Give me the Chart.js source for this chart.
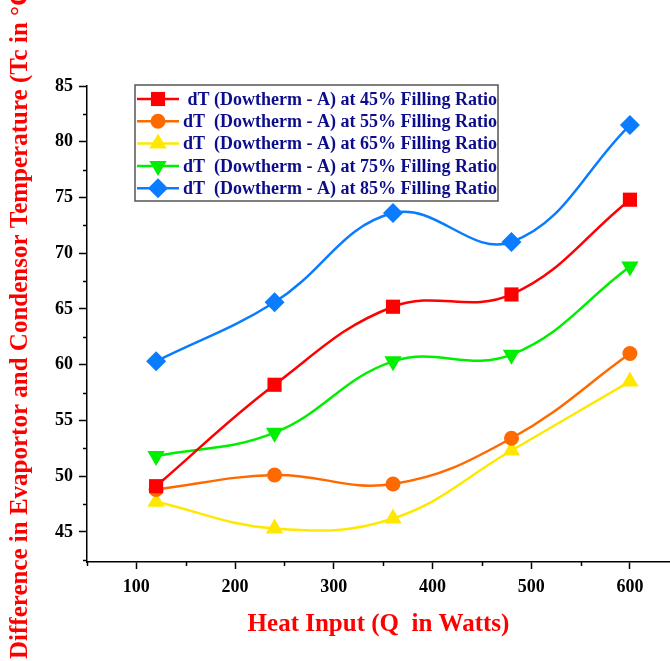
<!DOCTYPE html>
<html>
<head>
<meta charset="utf-8">
<script src="https://cdn.jsdelivr.net/npm/chart.js@4.4.1/dist/chart.umd.min.js"></script>
<style>
  html, body { margin: 0; padding: 0; background: #fff; }
  #wrap { width: 670px; height: 661px; }
</style>
</head>
<body>
<div id="wrap"><canvas id="chart" width="670" height="661"></canvas></div>
<script>
// data
var heatInput = [120, 240, 360, 480, 600];
var fill45 = [49.1, 58.2, 65.2, 66.3, 74.8];
var fill55 = [48.8, 50.1, 49.3, 53.4, 61.0];
var fill65 = [47.7, 45.3, 46.2, 52.3, 58.5];
var fill75 = [51.8, 53.9, 60.3, 60.9, 68.8];
var fill85 = [60.3, 65.6, 73.6, 71.0, 81.5];

var seriesNames = [
  ' dT (Dowtherm - A) at 45% Filling Ratio',
  'dT  (Dowtherm - A) at 55% Filling Ratio',
  'dT  (Dowtherm - A) at 65% Filling Ratio',
  'dT  (Dowtherm - A) at 75% Filling Ratio',
  'dT  (Dowtherm - A) at 85% Filling Ratio'
];

var xTicks = [100, 200, 300, 400, 500, 600];
var xMinor = [50, 150, 250, 350, 450, 550];
var yTicks = [45, 50, 55, 60, 65, 70, 75, 80, 85];
var yMinor = [42.5, 47.5, 52.5, 57.5, 62.5, 67.5, 72.5, 77.5, 82.5];

var yTitle = 'Difference in Evaportor and Condensor Temperature (Tc in \u00B0C)';
var xTitle = 'Heat Input (Q  in Watts)';

var SERIF = "'Liberation Serif', 'Times New Roman', serif";

function pts(arr) {
  return heatInput.map(function(x, i) { return { x: x, y: arr[i] }; });
}

function series(label, arr, color, style, radius, rot) {
  return {
    label: label,
    data: pts(arr),
    borderColor: color,
    backgroundColor: color,
    borderWidth: 2.5,
    pointStyle: style,
    pointRadius: radius,
    pointRotation: rot || 0,
    pointBorderWidth: 0,
    tension: 0.4,
    fill: false
  };
}

// minor ticks (short) + the rotated y title, which runs off the top like the original
var axisExtras = {
  id: 'axisExtras',
  afterDraw: function(chart) {
    var ctx = chart.ctx, x = chart.scales.x, y = chart.scales.y;
    ctx.save();
    ctx.strokeStyle = '#000';
    ctx.lineWidth = 1.5;
    xMinor.forEach(function(v) {
      var px = Math.round(x.getPixelForValue(v)) + 0.5;
      ctx.beginPath(); ctx.moveTo(px, x.top); ctx.lineTo(px, x.top + 4); ctx.stroke();
    });
    yMinor.forEach(function(v) {
      var py = Math.round(y.getPixelForValue(v)) + 0.5;
      ctx.beginPath(); ctx.moveTo(y.right, py); ctx.lineTo(y.right - 4, py); ctx.stroke();
    });
    ctx.translate(21, 659);
    ctx.rotate(-Math.PI / 2);
    ctx.fillStyle = '#ff0000';
    ctx.font = 'bold 25px ' + SERIF;
    ctx.textAlign = 'left';
    ctx.textBaseline = 'middle';
    ctx.fillText(yTitle, 0, 0);
    ctx.restore();
  }
};

// boxed legend inside the plot, like the original
var boxLegend = {
  id: 'boxLegend',
  afterDraw: function(chart) {
    var ctx = chart.ctx, area = chart.chartArea;
    var left = area.left + 48, top = area.top - 1, w = 363, h = 116, row = 22.3;
    ctx.save();
    ctx.fillStyle = '#fff';
    ctx.fillRect(left, top, w, h);
    ctx.strokeStyle = '#555';
    ctx.lineWidth = 1.5;
    ctx.strokeRect(left, top, w, h);
    ctx.font = 'bold 18px ' + SERIF;
    ctx.textBaseline = 'middle';
    ctx.textAlign = 'left';
    chart.data.datasets.forEach(function(ds, i) {
      var cy = top + 14 + i * row;
      ctx.strokeStyle = ds.borderColor;
      ctx.lineWidth = 2.5;
      ctx.beginPath(); ctx.moveTo(left + 2, cy); ctx.lineTo(left + 44, cy); ctx.stroke();
      ctx.fillStyle = ds.backgroundColor;
      Chart.helpers.drawPoint(ctx, {
        pointStyle: ds.pointStyle, radius: ds.pointRadius, rotation: ds.pointRotation, borderWidth: 0
      }, left + 23, cy);
      ctx.fillStyle = '#0d0d8c';
      ctx.fillText(ds.label, left + 48, cy + 1);
    });
    ctx.restore();
  }
};

new Chart(document.getElementById('chart'), {
  type: 'line',
  data: {
    datasets: [
      series(seriesNames[0], fill45, '#ff0000', 'rect', 10),
      series(seriesNames[1], fill55, '#ff6a00', 'circle', 7.5),
      series(seriesNames[2], fill65, '#ffe800', 'triangle', 10),
      series(seriesNames[3], fill75, '#00ee00', 'triangle', 10, 180),
      series(seriesNames[4], fill85, '#0a7cff', 'rectRot', 10)
    ]
  },
  options: {
    responsive: false,
    animation: false,
    devicePixelRatio: 1,
    layout: { autoPadding: false, padding: { top: 86, right: 0, bottom: 0, left: 0 } },
    plugins: { legend: { display: false }, tooltip: { enabled: false } },
    scales: {
      x: {
        type: 'linear',
        position: 'bottom',
        min: 50,
        max: 640.6,
        afterBuildTicks: function(s) { s.ticks = xTicks.map(function(v) { return { value: v }; }); },
        afterFit: function(s) { s.height = 99; },
        ticks: { color: '#000', font: { family: SERIF, size: 18, weight: 'bold' }, padding: 8, maxRotation: 0, autoSkip: false },
        grid: { drawOnChartArea: false, tickLength: 7, tickWidth: 1.5, tickColor: '#000' },
        border: { color: '#000', width: 1.5 },
        title: {
          display: true, text: xTitle, color: '#ff0000',
          font: { family: SERIF, size: 25, weight: 'bold' }, padding: { top: 0, bottom: 21 }
        }
      },
      y: {
        min: 42.3,
        max: 85,
        afterBuildTicks: function(s) { s.ticks = yTicks.map(function(v) { return { value: v }; }); },
        afterFit: function(s) { s.width = 87; },
        ticks: { color: '#000', font: { family: SERIF, size: 18, weight: 'bold' }, padding: 6, autoSkip: false },
        grid: { drawOnChartArea: false, tickLength: 8, tickWidth: 1.5, tickColor: '#000' },
        border: { color: '#000', width: 1.5 },
        title: { display: false }
      }
    }
  },
  plugins: [axisExtras, boxLegend]
});
</script>
</body>
</html>
